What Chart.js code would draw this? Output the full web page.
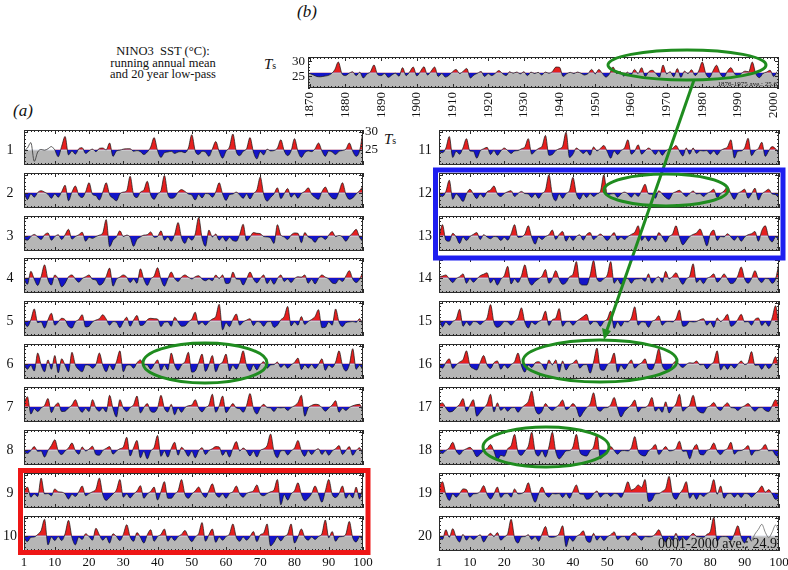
<!DOCTYPE html>
<html>
<head>
<meta charset="utf-8">
<script src="https://cdn.jsdelivr.net/npm/chart.js@4/dist/chart.umd.min.js"></script>
<style>
body { margin: 0; width: 788px; height: 570px; background: #fff; position: relative; overflow: hidden;
       font-family: 'Liberation Serif', serif; color: #111; }
canvas { position: absolute; }
.txt { position: absolute; white-space: nowrap; }
svg { position: absolute; left: 0; top: 0; }
</style>
</head>
<body>

<div class="txt" style="left:63px;top:46px;width:200px;text-align:center;font-size:12.5px;line-height:11.5px">NINO3&nbsp; SST (°C):<br>running annual mean<br>and 20 year low-pass</div>
<div class="txt" style="left:297px;top:2px;font-size:17px;font-style:italic">(b)</div>
<div class="txt" style="left:13px;top:101px;font-size:17px;font-style:italic">(a)</div>
<div class="txt" style="left:264px;top:56px;font-size:15px"><i>T</i><span style="font-size:10px">s</span></div>
<div class="txt" style="left:384px;top:131px;font-size:15px"><i>T</i><span style="font-size:10px">s</span></div>

<script>
// running annual mean minus the 20 year low-pass (degC), model years 1..100 of each century
const run01 = [null, null, null, null, null, null, null, null, null, 0.0,
    -1.9, 1.0, 3.7, -1.4, -0.3, -1.2, 0.3, 0.6, -1.0, -0.3,
    0.2, -0.5, 0.4, 0.5, 0.0, 1.9, -1.8, -0.3, -0.1, 0.2,
    0.3, 0.3, -0.4, -0.2, -0.5, -1.3, -0.6, 0.8, 3.4, -0.2,
    -2.1, -0.8, -0.6, -0.4, -1.0, -0.6, -0.5, -0.8, 0.5, 4.2,
    -0.3, -1.3, -0.4, -0.6, -1.8, 0.2, 2.3, -0.5, -2.3, -0.4,
    0.8, 4.4, -0.5, -1.6, -0.4, 0.3, 3.4, -0.6, -2.5, -0.5,
    -1.4, 0.2, -0.3, -0.2, 0.5, 2.8, -0.3, -1.6, -0.3, 3.1,
    -0.4, -2.1, -0.8, -0.3, -0.5, 0.3, 1.9, -0.3, -1.8, -0.3,
    -0.6, -1.3, -0.4, -0.2, 0.2, 1.9, -0.4, -1.8, -0.3, 5.3];
const spinUp01 = [-0.3, 0.5, 2.0, -3.2, -0.6, 0.1, -0.1, 0.3, 0.9, 0.0];
const run02 = [0.2, -1.9, -0.3, -1.2, 0.1, 0.6, 0.2, -0.4, -1.5, -0.3,
    -1.2, 0.3, 2.1, -2.2, 0.2, 1.9, -0.6, -1.3, 0.3, 2.8,
    -0.4, -0.8, -2.0, 0.2, 2.8, -0.5, -1.5, -2.2, -0.3, 0.2,
    0.6, 4.6, -0.5, -1.3, 0.2, 0.8, 3.2, -0.6, -1.8, -0.3,
    0.6, 4.8, -0.4, -1.5, -1.2, 0.2, 0.9, 0.4, -0.3, -0.6,
    -2.0, -0.4, -1.4, -0.2, -0.3, -1.2, 0.3, 2.8, -0.3, -2.1,
    -0.5, -0.3, 0.2, -0.6, -1.5, -0.3, -1.7, -0.2, 0.8, 4.4,
    -0.4, -2.3, -1.3, -0.3, 1.4, -1.6, -0.2, 1.2, -1.2, -0.3,
    -1.5, -0.2, 0.4, 1.4, -0.4, -1.3, -1.8, 0.3, 1.6, -0.3,
    -1.5, -1.7, 0.3, 2.8, -0.4, -1.8, -1.4, -0.3, 0.6, 1.9];
const run03 = [-1.0, -1.2, -0.2, 0.4, -0.3, -1.0, 0.3, 0.8, -1.2, -0.2,
    0.3, -1.0, 0.3, 1.8, -0.9, -0.2, 0.3, 1.0, -1.5, -0.4,
    -0.7, -0.2, 0.2, 0.8, 4.5, -3.0, -1.2, -0.3, 1.4, -0.2,
    0.2, -0.4, -2.9, -1.0, -0.3, 0.2, 0.3, 1.1, -0.4, -0.2,
    1.4, -1.2, -0.3, -1.5, 0.4, 3.7, -0.5, -2.1, -0.4, -1.2,
    0.5, 5.1, -0.6, -2.9, 1.6, -0.3, 0.5, -1.2, -0.3, -1.5,
    -0.4, -1.3, -1.5, 0.4, 3.2, -1.4, -0.3, 0.9, 0.7, 0.6,
    -0.2, -0.3, -0.6, -2.1, 3.1, 0.2, -0.3, -1.0, 0.2, 0.8,
    0.7, -1.9, 0.9, -0.3, -0.8, -1.8, -0.5, -0.3, -1.0, 0.2,
    1.2, -0.2, 0.1, -0.3, -1.5, -0.2, 0.8, 1.8, -0.4, -1.7];
const run04 = [-0.5, -1.8, 1.8, -0.4, -2.1, 0.3, 3.6, -0.5, -2.0, 0.8,
    -0.3, -2.5, -1.5, 0.3, 0.8, -0.3, -1.2, -0.2, 0.3, 0.8,
    -0.4, -0.6, -2.0, -1.5, 0.4, 2.7, -2.3, -0.4, 0.2, 0.8,
    0.2, -1.3, -0.3, -1.5, 2.5, -0.4, -2.1, -0.3, 0.5, 2.8,
    -0.4, -2.3, -0.3, 1.6, -0.2, -1.0, 0.2, 0.8, 0.2, -0.3,
    0.3, 0.6, -0.3, -0.8, -0.3, -0.8, 0.8, -0.2, 0.8, -1.6,
    -1.4, 1.6, -0.3, -0.4, -2.0, -0.3, 1.6, -0.3, -1.4, -0.2,
    0.8, -1.6, -0.4, -1.8, -0.2, 0.8, -1.0, -0.3, -1.3, -0.2,
    0.3, 0.2, 0.8, -1.5, -0.4, -1.7, -0.2, 0.8, 0.2, -0.3,
    -1.4, -1.6, -0.4, -1.0, 0.5, 2.0, -0.3, -1.3, -0.4, 1.8];
const run05 = [-0.3, -1.6, 0.3, 3.3, -0.5, -0.3, -2.0, 0.3, 2.1, -1.2,
    -0.3, 0.7, 0.3, -1.5, -2.0, -0.3, 0.4, 1.7, -1.7, -1.5,
    -0.3, 0.2, 0.6, 1.7, 0.5, -1.2, -0.2, -0.4, -1.9, -0.3,
    1.0, -1.5, 0.2, 1.5, -1.3, -1.0, 0.3, 0.7, 0.6, 0.5,
    -1.6, -0.4, -0.3, -1.5, 1.0, -0.3, -1.5, -1.4, -0.3, 0.5,
    2.4, -1.0, -0.3, -1.2, -0.2, 0.5, 1.2, 4.6, -2.5, -0.5,
    -1.6, 0.4, 1.9, -1.2, -0.3, 0.2, 0.6, -1.3, -0.2, -0.4,
    -1.5, -0.3, -0.2, -1.8, -1.2, 0.3, 1.2, 4.0, -1.4, -0.3,
    -1.2, 1.2, -1.0, -0.2, 0.4, 1.2, 3.1, -1.9, -1.8, -0.3,
    -1.2, 3.3, -0.3, -1.6, -0.5, -0.3, -0.2, -0.4, 0.6, -1.2];
const run06 = [-0.2, -1.5, -0.4, -2.0, 3.0, -0.3, -2.2, 1.1, -1.5, 2.3,
    -2.5, 1.4, -0.4, -2.2, 3.2, -0.3, -1.6, -2.2, -0.3, -0.4,
    -1.2, -0.2, 3.0, -0.4, -2.2, -0.3, -1.7, 0.6, 3.6, -2.2,
    -0.4, -0.3, -1.2, 0.3, 1.1, -0.2, -0.3, -1.5, -0.2, 1.1,
    -1.8, -0.3, -1.7, 3.0, -0.4, -1.8, -0.3, 0.6, 3.2, -2.3,
    -2.0, 0.3, 2.7, -2.1, -0.3, 2.3, -2.2, -0.3, 0.5, 2.7,
    -2.0, -0.4, -1.5, 0.4, 3.6, -0.5, -2.0, -0.3, -1.7, -0.2,
    0.6, -1.2, -0.3, -0.2, 0.5, -1.0, -0.2, -1.2, -0.3, 0.4,
    1.6, -1.6, -0.3, -1.2, -0.2, -1.3, -0.2, 1.4, -1.8, -0.4,
    -1.0, 0.5, 3.6, -0.4, -2.0, -0.3, 4.2, -1.5, -0.4, -1.8];
const run07 = [1.0, 2.8, -2.0, -0.5, -1.3, -0.3, 0.4, 2.3, -1.6, 0.2,
    1.1, -1.3, -1.2, -0.3, 0.5, 2.0, -0.3, -1.5, -0.4, -1.3,
    2.0, -0.3, -1.2, -0.3, -1.4, 3.2, -0.5, -2.8, 2.0, -0.3,
    -1.3, -0.2, 0.6, 3.0, -1.7, -0.2, 0.9, -1.2, -1.5, -0.3,
    3.2, -0.4, -1.4, 0.7, -2.2, -0.3, -1.5, -0.2, 0.3, 0.5,
    2.0, -0.3, -1.4, -0.2, 0.5, 3.5, -1.5, 0.3, 3.0, -1.6,
    -0.4, 0.9, -0.3, -0.5, -1.5, 0.4, 3.7, -0.4, -2.0, -0.3,
    0.7, -0.2, -0.3, -1.3, -0.2, -0.3, -0.2, -1.0, -0.2, 0.3,
    1.2, 3.2, -2.6, -0.3, 0.4, 0.7, 0.6, -0.2, -1.2, -0.3,
    0.5, 1.7, -1.5, -0.4, -1.0, -0.2, 0.3, 0.6, 0.7, -1.2];
const run08 = [-0.3, -1.0, -0.2, 0.9, -0.4, -0.3, -2.0, -0.2, 1.2, 2.8,
    -0.3, -1.3, -0.3, 0.5, 1.9, -0.2, -1.2, 0.8, -0.3, 0.2,
    1.0, -1.3, -1.5, -0.2, 0.4, 0.9, -1.2, -0.3, 0.3, 0.8,
    3.5, -1.7, 0.6, 2.6, -2.2, -0.4, -2.5, -0.3, 0.7, 4.0,
    -1.8, -0.3, -2.0, 0.4, 2.1, -1.5, 0.7, -0.3, -1.8, -0.4,
    -2.2, -0.3, 0.6, -1.3, -0.2, 0.3, 0.9, 0.8, -1.5, -0.3,
    -2.0, 0.4, 2.3, -0.3, 0.5, -0.3, -1.7, -0.4, -2.0, -0.2,
    0.3, 1.2, 4.4, -0.4, -2.2, -0.3, -0.2, -1.4, -0.3, 0.5,
    2.6, -0.3, -1.8, -0.2, -1.3, -0.2, 0.3, -1.3, -0.2, -1.5,
    -0.3, 0.3, 1.2, -1.3, -0.2, 0.9, -1.5, -0.2, 0.6, -1.4];
const run09 = [0.6, 1.6, -1.2, -0.3, -1.0, 4.1, -0.3, -0.2, -0.8, 1.1,
    0.3, 0.2, -0.3, -1.7, -0.4, -1.0, 0.3, 1.9, -0.8, -0.2,
    0.3, 1.0, 4.1, -0.5, -2.1, -1.3, -0.3, 0.8, 3.7, -1.2,
    -0.3, -1.4, -0.3, 0.5, 2.0, -1.5, -0.3, 0.4, 1.6, -2.0,
    0.4, 3.1, -1.5, -1.5, -0.3, 0.6, 3.7, -0.4, -1.5, -0.3,
    0.5, 1.6, -0.2, -1.3, 0.6, 2.5, -0.3, -1.2, -0.3, -1.5,
    -0.2, 0.3, 1.9, -0.3, -1.2, -0.2, 0.2, 0.6, 2.2, -0.3,
    -0.8, -0.2, 0.3, 0.8, 3.7, -3.3, -0.5, -2.0, -0.3, 0.6,
    2.8, -0.4, -2.2, -1.5, -0.2, 1.9, -0.3, -2.6, 0.5, 3.7,
    -0.4, -1.3, -0.2, 1.9, -1.5, -0.3, -1.4, 1.6, -1.7, 2.2];
const run10 = [-0.8, -1.6, -0.4, -0.3, 0.4, 1.5, 4.6, -2.5, -0.3, -1.3,
    -0.2, -1.3, 0.6, 4.3, -0.4, -2.5, -0.3, -1.0, 0.6, -0.2,
    -1.2, 2.1, 0.3, -1.2, -0.3, -2.0, 0.6, -0.2, -1.3, 0.4,
    3.1, -0.3, -1.5, 0.9, -0.4, -2.0, 0.3, 1.7, -1.5, -0.2,
    0.4, 1.9, -1.5, -0.3, -1.3, -0.2, 0.4, 1.5, -0.3, -1.6,
    -0.3, 0.6, 3.7, -1.5, 0.3, 1.9, -1.8, -0.3, -1.2, -0.2,
    0.5, 3.3, -0.4, -1.5, -0.3, -1.2, -0.2, 1.2, -1.6, 0.3,
    0.8, 3.3, -2.8, -1.8, -0.3, -1.4, -0.2, 0.5, 3.3, -2.0,
    -0.3, 1.9, -0.4, -1.2, -0.3, -1.0, -0.2, 0.6, 4.4, -0.5,
    1.2, -1.5, -0.3, -0.2, 0.5, 4.0, -0.5, -1.7, -0.3, -1.0];
const run11 = [-0.5, -0.8, 0.5, 3.7, -2.1, -0.4, -1.2, 0.6, 3.1, -0.3,
    -0.4, -2.3, -0.3, 0.3, 0.7, -1.3, -0.2, -1.5, -0.3, 0.5,
    -0.2, -1.0, -0.3, -0.2, 0.3, 0.8, 3.1, -1.2, -0.3, 0.4,
    1.0, 4.0, -1.5, -1.3, -0.2, 0.3, 1.0, 4.9, -2.1, -1.2,
    0.5, -0.2, -1.0, -0.3, -1.5, 0.8, -0.3, 0.4, 1.2, -0.5,
    -2.3, -0.3, -1.3, -0.2, 0.5, 2.8, -1.2, -0.3, 1.4, -1.2,
    -0.3, 0.5, -0.2, -1.3, -0.2, -1.5, -0.3, 0.2, 0.4, 1.2,
    -0.3, -1.7, 0.5, -1.2, 0.5, -1.0, -0.2, -0.3, -0.2, -1.2,
    -0.3, -1.4, -0.2, 0.3, 0.8, 2.8, -2.3, -0.4, -0.3, 0.6,
    3.2, -1.6, -0.3, 0.4, 2.1, -1.8, -0.3, 0.9, 0.3, -1.2];
const run12 = [-0.4, -1.0, 0.4, 3.5, -1.8, -0.3, -1.2, -2.4, -0.3, 1.0,
    -0.3, -1.6, -0.3, -1.2, 0.3, 0.8, 1.9, -0.3, -1.0, -0.2,
    0.3, 0.6, -1.0, -0.2, 0.4, -0.2, -0.3, -1.3, -0.3, -1.5,
    -0.2, 0.8, 5.0, -0.5, -2.2, -0.3, -1.5, -0.2, 0.6, 4.3,
    -0.3, -1.8, -0.3, -1.3, -0.2, -1.0, -0.3, 0.4, 5.0, -0.5,
    -0.3, -0.2, -1.2, -0.3, 0.2, -0.3, -1.2, -0.2, -1.0, 0.6,
    2.4, -0.3, -0.4, -1.5, 0.6, -0.3, -1.3, -1.8, -0.2, 0.3,
    0.7, -0.2, -1.0, -0.2, 0.5, -0.3, -0.2, -1.0, -0.2, 0.3,
    1.0, -1.3, -0.2, 0.5, 1.7, -0.3, -1.8, -0.2, 0.4, 1.0,
    -1.5, -0.3, 1.3, -2.0, -0.3, 0.4, 1.0, -0.3, -0.5, -1.5];
const run13 = [-0.4, 3.1, -1.2, -1.5, 0.7, -0.3, -2.1, -0.3, -1.3, -0.2,
    0.4, 0.9, -1.0, 0.3, -0.3, -0.8, -0.2, -0.3, -1.3, -0.4,
    -1.2, 0.6, 3.1, -0.4, -0.3, 0.5, 2.8, -0.4, -2.3, -0.3,
    -1.0, -0.2, 0.3, 1.6, -1.0, 0.4, 1.2, -1.5, -0.2, -1.3,
    -0.2, 0.3, -1.2, 0.4, 0.9, -1.0, -0.2, 0.5, -0.3, -1.3,
    -0.2, 0.9, -1.2, -0.3, -1.0, -0.2, 0.4, 1.0, 2.8, -1.3,
    -0.2, -1.5, -0.3, -1.2, 0.9, -0.3, -1.7, -0.2, 0.5, 2.8,
    -0.3, -2.5, -1.4, -0.2, 0.4, 0.8, 1.9, -0.3, -2.8, 0.5,
    1.6, -1.3, -0.2, -0.3, 0.6, -0.3, -1.2, -0.2, -1.5, -0.3,
    0.3, 0.6, 1.2, -1.5, 1.5, 2.8, -0.4, -1.7, -0.3, -1.2];
const run14 = [0.3, 0.5, 0.8, -0.3, -1.3, -0.2, 0.3, 1.1, -1.5, -0.2,
    -1.2, -0.3, 0.6, 1.0, 1.4, -1.4, -0.3, -2.0, -0.4, 0.6,
    3.2, -1.7, -0.3, -1.3, 0.6, 3.6, -0.4, -2.0, -1.0, -0.3,
    0.5, 2.3, -1.5, -0.2, 2.0, -0.4, -1.8, -1.3, 0.3, 1.0,
    4.5, -1.5, -2.0, -2.0, 0.7, 4.8, -0.3, -1.0, -0.2, 0.8,
    4.5, -1.5, -0.4, -1.8, -0.3, -0.2, -1.5, -0.4, -0.3, -0.2,
    -1.0, 1.1, -1.5, -0.3, 0.3, -1.3, 1.8, -0.3, 0.4, 1.4,
    -0.4, -1.8, -0.3, 0.5, 3.9, -1.3, -0.4, -1.6, -0.2, 0.3,
    1.1, -1.2, -0.3, 1.1, -0.3, -1.6, -1.2, 0.6, 3.0, -0.3,
    -1.5, -0.2, 2.0, -0.3, -1.3, -0.2, -0.3, -1.5, -0.3, 4.2];
const run15 = [1.0, -1.7, -0.3, -1.2, -0.2, 0.5, 3.2, -1.5, -0.3, -1.3,
    -0.2, -0.3, -1.0, -0.2, 0.8, 4.5, -0.5, -1.8, -1.3, -0.2,
    -0.3, -1.2, -0.2, 0.8, 3.6, -0.4, -2.0, -0.3, -1.0, -0.2,
    0.4, 2.7, -1.3, 0.3, 0.8, 3.4, -1.5, -0.3, -0.2, -1.2,
    -0.2, 0.5, 1.2, 1.8, -1.0, -0.2, -0.3, -1.5, -0.2, 0.5,
    2.7, -2.1, -0.3, -1.5, -0.2, -0.3, 0.8, 3.9, -1.2, -0.3,
    -0.4, -1.8, -0.2, 0.3, 1.4, -1.2, -0.3, -0.2, -0.3, 0.6,
    3.0, -1.5, -1.3, -0.2, -0.3, -0.2, 0.3, 0.6, -1.2, -0.3,
    -1.8, 0.8, -0.2, 0.6, 1.8, -1.5, -1.0, 0.4, 1.8, -0.3,
    -0.2, -1.2, 0.4, 0.8, -1.3, -0.3, -1.5, 0.8, 4.2, -2.3];
const run16 = [-0.3, -1.2, 0.4, 1.4, -1.3, -0.3, 0.5, 1.2, 3.6, -0.4,
    -1.3, -1.7, 0.4, 2.3, -0.3, -1.3, 0.3, 0.8, -1.5, -0.3,
    -1.2, -0.2, 0.6, 3.0, -0.5, -2.3, -0.3, -1.0, 0.3, 0.6,
    -0.2, -1.7, 1.1, -0.3, 1.1, -2.3, 0.8, -1.7, -0.3, 0.2,
    1.1, -1.2, -0.3, -0.2, -2.6, 0.5, 4.4, -1.5, -1.8, -0.3,
    0.6, 3.0, -2.3, -0.4, -1.5, -0.2, 1.1, -1.2, -0.3, 0.3,
    1.4, -1.4, -1.6, 0.6, 4.2, -0.4, -1.7, -1.8, -0.2, 0.8,
    -0.3, -1.0, -0.2, 0.3, 0.2, 0.8, -0.3, -0.2, -1.4, -0.3,
    0.6, 3.6, -1.7, -0.4, -1.5, -0.3, -1.2, -0.2, 0.8, -0.2,
    0.4, 3.4, -0.4, -0.3, -1.5, -0.2, -1.3, -0.2, 2.0, -1.8];
const run17 = [0.5, 1.1, -0.3, -1.4, -1.2, -0.2, 0.7, 2.3, -1.3, 0.4,
    2.0, -2.6, -1.5, -0.3, 0.8, 3.5, -1.4, 1.1, -1.0, -0.2,
    -1.2, -0.3, -0.2, -1.5, -0.3, 0.5, 1.5, 4.4, -0.5, -2.0,
    -1.2, 0.9, -0.3, -1.0, -0.2, 0.6, 1.9, -0.8, -0.2, 0.9,
    -0.3, -2.8, -1.5, -0.2, 0.8, 3.9, -0.4, -1.2, -0.3, -0.2,
    0.6, 2.6, -0.5, -2.8, -1.3, -0.3, 0.5, 1.9, -1.4, -0.3,
    -0.2, 0.6, 2.6, -1.2, -0.3, -1.5, 1.4, -1.7, -0.3, 0.8,
    3.5, -1.2, -0.3, 0.5, 3.2, -0.4, -1.5, -1.7, -0.2, 0.3,
    1.2, -0.3, -1.0, 0.3, 1.1, -0.2, -0.3, -1.0, -0.2, 0.3,
    0.9, -0.2, -1.2, -0.3, -0.2, -1.0, -1.3, 0.3, 2.0, 0.5];
const run18 = [-0.3, -1.0, -0.2, 0.6, 2.1, -0.3, -1.3, -0.2, 0.3, 0.7,
    -0.3, -1.9, -1.2, -0.2, 0.4, 1.5, -0.4, -2.8, -1.5, -1.8,
    0.3, 1.2, 4.3, -0.5, -1.5, -0.3, 1.0, 4.9, -0.5, -1.7,
    -0.3, -2.0, 0.8, 4.9, -0.5, -2.5, -1.5, -0.3, -0.2, 0.8,
    4.3, -0.5, -1.5, -1.7, -0.3, 0.8, 4.3, -2.5, -1.3, -0.3,
    0.9, -0.2, -1.2, -0.3, -0.2, -0.3, 0.6, 3.7, -0.4, -1.5,
    -1.7, -0.3, 0.4, 1.5, -1.3, -0.2, 0.9, -0.3, -0.2, 0.4,
    2.4, -0.4, -0.3, -2.5, 0.2, 1.5, -1.2, -1.4, -0.2, 0.3,
    1.9, -0.3, -1.3, -0.2, 0.4, 2.1, -1.2, -0.3, -0.2, 0.3,
    1.2, -1.5, -0.3, -0.2, 0.3, 1.5, -0.3, -0.2, -1.5, -2.0];
const run19 = [1.5, 3.1, -0.4, -2.1, -0.3, -1.2, -0.2, 1.1, 0.9, -1.2,
    -0.3, -0.2, 0.4, 2.0, -0.4, -1.7, -0.3, 1.6, -1.3, -0.3,
    -0.2, -1.2, 1.1, -0.3, -0.2, 0.5, 2.8, -0.5, -2.6, -0.3,
    1.6, -0.3, -1.2, -0.2, -0.3, -0.2, -1.3, -0.2, -1.5, 0.4,
    2.2, -0.3, -0.4, -1.8, -1.5, -0.3, 0.5, -1.2, -0.3, -0.2,
    -1.0, -0.2, -0.3, -1.3, 0.6, 3.1, 0.8, 1.2, 2.2, 1.5,
    3.7, -2.4, -2.0, -0.3, -0.2, 0.4, 1.2, 4.6, -0.5, -1.8,
    -0.3, 1.0, 3.1, -1.5, -0.3, -1.8, -0.3, -1.0, -0.2, 0.5,
    3.7, -0.4, 1.9, -1.5, -0.3, -0.2, -1.2, -0.3, -1.3, -0.2,
    -0.3, -1.2, -0.3, 0.6, 1.9, 0.2, 0.9, -0.3, -1.8, -1.5];
const run20 = [-0.3, -1.0, 1.7, -0.4, 2.0, -0.4, -1.7, 0.4, -1.2, -0.2,
    -1.0, -0.3, 0.3, -1.7, -0.3, 0.7, -0.2, 0.9, -1.2, -0.3,
    0.6, 4.6, -0.5, -2.0, -0.3, -0.2, 0.3, -1.0, -0.2, -1.5,
    0.5, 2.6, -0.3, -0.4, -0.2, 0.6, 2.8, -3.0, -0.5, -1.5,
    -0.2, 0.4, 1.4, -1.3, -1.8, 0.7, -1.2, -0.2, -1.3, -0.3,
    0.3, 1.1, -1.0, -0.3, -0.2, -1.3, 0.3, 0.9, -0.3, -1.2,
    -0.2, -0.3, -0.2, 0.5, 1.7, -0.3, -1.7, -0.2, -1.2, 0.7,
    -1.4, -0.3, -1.2, -0.2, 0.7, -0.2, -0.3, -0.4, 0.4, 1.2,
    5.1, -1.5, -0.3, -0.2, -0.3, -1.3, 0.5, 2.8, -0.4, -2.0,
    -0.3, -1.5, null, null, null, null, null, null, null, null];
// years 92..100 of the last century, beyond the 2000 year average
const tail20 = [-1.5, 0.5, 1.8, 3.2, 1.0, -0.5, 1.0, 3.0, 1.0];
const tailYears20 = [92, 93, 94, 95, 96, 97, 98, 99, 100];
const spinYears01 = [1, 2, 3, 4, 5, 6, 7, 8, 9, 10];

// 20 year low-pass level of each century (degC)
const lowPass = [25.0, 25.0, 25.0, 25.0, 25.0, 25.0, 25.0, 25.0, 25.0, 25.0,
    25.0, 25.0, 25.0, 25.0, 25.0, 25.0, 25.0, 25.0, 25.0, 25.0];
const panelNames = ['1', '2', '3', '4', '5', '6', '7', '8', '9', '10',
    '11', '12', '13', '14', '15', '16', '17', '18', '19', '20'];
const yearTicksA = [1, 10, 20, 30, 40, 50, 60, 70, 80, 90, 100];

// observed NINO3 SST anomaly from its low-pass, 1870..2001
const nino3Start = 1870;
const nino3 = [-0.3, -0.8, -1.3, -1.4, -1.2, -1.0, -0.4, 1.0, 3.6, -0.3,
    -1.0, -0.2, 0.3, -1.0, 0.2, -1.8, -0.5, 0.3, 2.6, -0.6,
    -1.0, -0.3, -1.6, -0.8, -0.2, -1.2, 1.7, -1.0, 0.3, 1.9,
    -1.1, 0.4, 2.0, -0.8, 0.5, 1.9, -1.3, -0.3, -1.5, -0.9,
    0.3, 1.1, -0.3, 0.5, 1.4, -1.8, -0.8, -0.2, 0.4, -1.3,
    -0.3, -1.0, -0.2, 0.7, -0.3, -1.0, 0.3, -0.2, 0.2, -0.4,
    0.3, -1.0, 0.2, -0.3, 0.1, -0.8, 0.2, -0.2, 0.4, 1.9,
    1.8, -1.3, -0.4, 0.1, -0.3, 0.2, -0.2, -0.8, -0.3, 1.1,
    -0.4, 1.1, -0.3, -1.5, -0.4, 1.9, -0.3, 0.4, -1.2, 0.2,
    -0.8, 1.1, -0.3, 1.7, -1.3, 0.3, 0.8, -0.3, -1.5, 2.6,
    -0.4, 0.3, -1.4, 1.4, -1.6, 0.5, -0.3, 1.0, -1.0, 0.6,
    3.6, -0.4, -1.7, 0.6, 2.5, -0.3, -1.6, 0.4, 1.7, -0.3,
    -1.3, -0.2, 0.5, 0.3, 3.6, -0.4, -1.7, -0.3, 0.2, 0.8,
    -1.3, 0.4];
const nino3LowPass = 26.2;
const yearTicksB = [1870, 1880, 1890, 1900, 1910, 1920, 1930, 1940, 1950, 1960, 1970, 1980, 1990, 2000];
const tempTicks = [25, 30];

const runs = [run01, run02, run03, run04, run05, run06, run07, run08, run09, run10,
    run11, run12, run13, run14, run15, run16, run17, run18, run19, run20];

const RED = '#e6201f';
const BLUE = '#1414c8';
const GRAY = '#b6b6b6';
const FONT = "'Liberation Serif', serif";

Chart.defaults.font.family = FONT;

// frame, inward ticks and labels, placed with the chart's own scales
const framePlugin = {
    id: 'frame',
    afterDatasetsDraw(chart, args, opts) {
        const ctx = chart.ctx;
        const a = chart.chartArea;
        const x = chart.scales.x;
        const y = chart.scales.y;
        ctx.save();
        ctx.strokeStyle = '#2a2a2a';
        ctx.lineWidth = 1;
        ctx.beginPath();
        for (let v = Math.ceil(x.min); v <= x.max; v++) {
            const px = Math.round(x.getPixelForValue(v)) + 0.5;
            const len = v % 10 === 0 ? 4 : 2;
            ctx.moveTo(px, a.bottom);
            ctx.lineTo(px, a.bottom - len);
            ctx.moveTo(px, a.top);
            ctx.lineTo(px, a.top + len);
        }
        for (let v = Math.ceil(y.min); v <= y.max; v++) {
            const py = Math.round(y.getPixelForValue(v)) + 0.5;
            const len = v % 5 === 0 ? 4 : 2;
            ctx.moveTo(a.left, py);
            ctx.lineTo(a.left + len, py);
            ctx.moveTo(a.right, py);
            ctx.lineTo(a.right - len, py);
        }
        ctx.stroke();
        ctx.strokeRect(Math.round(a.left) + 0.5, Math.round(a.top) + 0.5,
            Math.round(a.width) - 1, Math.round(a.height) - 1);

        ctx.fillStyle = '#111';
        if (opts.name) {
            ctx.font = '14px ' + FONT;
            ctx.textAlign = 'center';
            ctx.textBaseline = 'middle';
            ctx.fillText(opts.name, opts.nameX, y.getPixelForValue(25));
        }
        ctx.font = '13px ' + FONT;
        if (opts.rightTicks) {
            ctx.textAlign = 'left';
            ctx.textBaseline = 'middle';
            opts.rightTicks.forEach(v => ctx.fillText(String(v), a.right + 2, y.getPixelForValue(v)));
        }
        if (opts.leftTicks) {
            ctx.textAlign = 'right';
            ctx.textBaseline = 'middle';
            opts.leftTicks.forEach(v => ctx.fillText(String(v), a.left - 3, y.getPixelForValue(v)));
        }
        if (opts.bottomTicks) {
            ctx.textAlign = 'center';
            ctx.textBaseline = 'top';
            opts.bottomTicks.forEach(v => ctx.fillText(String(v), x.getPixelForValue(v), a.bottom + 5));
        }
        if (opts.yearTicks) {
            ctx.textAlign = 'right';
            ctx.textBaseline = 'middle';
            opts.yearTicks.forEach(v => {
                ctx.save();
                ctx.translate(x.getPixelForValue(v), a.bottom + 4);
                ctx.rotate(-Math.PI / 2);
                ctx.fillText(String(v), 0, 0);
                ctx.restore();
            });
        }
        if (opts.note) {
            ctx.font = opts.noteSize + 'px ' + FONT;
            ctx.textAlign = 'right';
            ctx.textBaseline = 'bottom';
            ctx.fillText(opts.note, a.right - 2, a.bottom);
        }
        ctx.restore();
    }
};

function makeCanvas(left, top, w, h) {
    const c = document.createElement('canvas');
    c.width = w;
    c.height = h;
    c.style.left = left + 'px';
    c.style.top = top + 'px';
    document.body.appendChild(c);
    return c.getContext('2d');
}

function points(values, first, base) {
    return values.map((v, k) => ({x: first + k, y: v === null ? null : base + v}));
}

function lineSet(data, color, width, fill, order) {
    return {
        data: data,
        borderColor: color,
        borderWidth: width,
        pointRadius: 0,
        fill: fill,
        cubicInterpolationMode: 'monotone',
        spanGaps: false,
        order: order
    };
}

function makeChart(ctx, datasets, xMin, xMax, yMin, yMax, padding, frame) {
    return new Chart(ctx, {
        type: 'line',
        data: {datasets: datasets},
        options: {
            responsive: false,
            animation: false,
            devicePixelRatio: 1,
            events: [],
            layout: {padding: padding},
            scales: {
                x: {type: 'linear', min: xMin, max: xMax, display: false},
                y: {min: yMin, max: yMax, display: false}
            },
            plugins: {legend: {display: false}, tooltip: {enabled: false}, frame: frame}
        },
        plugins: [framePlugin]
    });
}

// panel (a): 20 centuries
const Y_MIN = 20.8, Y_MAX = 30.5, PX_PER_DEG = 3.6;
const columns = [
    {canvasX: 0, canvasW: 400, plotL: 24, plotR: 363, nameX: 10},
    {canvasX: 400, canvasW: 388, plotL: 439, plotR: 779, nameX: 25}
];

for (let i = 0; i < runs.length; ++i) {
    const col = columns[Math.floor(i / 10)];
    const row = i % 10;
    const base = lowPass[i];
    const y25 = 149.5 + row * 42.9;
    const plotTop = Math.round(y25 - (Y_MAX - 25) * PX_PER_DEG);
    const plotH = Math.round((Y_MAX - Y_MIN) * PX_PER_DEG);
    const padT = 4;
    const padB = row === 9 ? 24 : 4;
    const ctx = makeCanvas(col.canvasX, plotTop - padT, col.canvasW, plotH + padT + padB);

    const datasets = [
        lineSet(points(runs[i], 1, base), '#111', 0.7, {target: {value: base}, above: RED, below: BLUE}, 0),
        Object.assign(lineSet([{x: 1, y: base}, {x: 100, y: base}], '#eef1fb', 1, 'start', 2),
            {backgroundColor: GRAY})
    ];
    if (i === 0) {
        datasets.push(lineSet(spinUp01.map((v, k) => ({x: spinYears01[k], y: base + v})), '#333', 0.8, false, 1));
    }
    if (i === 19) {
        datasets.push(lineSet(tail20.map((v, k) => ({x: tailYears20[k], y: base + v})), '#6a6a6a', 0.8, false, 1));
    }

    const frame = {name: panelNames[i], nameX: col.nameX};
    if (i === 0) frame.rightTicks = tempTicks;
    if (row === 9) frame.bottomTicks = yearTicksA;
    if (i === 19) {
        frame.note = '0001-2000 ave.: 24.9';
        frame.noteSize = 14;
    }
    makeChart(ctx, datasets, 1, 100, Y_MIN, Y_MAX,
        {left: col.plotL - col.canvasX, right: col.canvasX + col.canvasW - col.plotR, top: padT, bottom: padB},
        frame);
}

// panel (b): observed record
const ctxB = makeCanvas(250, 50, 538, 75);
makeChart(ctxB, [
    lineSet(points(nino3, nino3Start, nino3LowPass), '#111', 0.7,
        {target: {value: nino3LowPass}, above: RED, below: BLUE}, 0),
    Object.assign(lineSet([{x: 1869.5, y: nino3LowPass}, {x: 2001.5, y: nino3LowPass}], '#eef1fb', 1, 'start', 2),
        {backgroundColor: GRAY})
], 1869.5, 2001.5, 21, 31.5, {left: 58, right: 9, top: 7, bottom: 37},
    {leftTicks: tempTicks, yearTicks: yearTicksB, note: '1876-1975 ave.: 25.6', noteSize: 7});
</script>

<svg width="788" height="570">
  <g fill="none" stroke="#1f8c1f" stroke-width="3">
    <ellipse cx="687" cy="65" rx="79" ry="15"/>
    <ellipse cx="666" cy="190" rx="62" ry="16"/>
    <ellipse cx="205" cy="363" rx="62" ry="20"/>
    <ellipse cx="600" cy="361" rx="77" ry="21"/>
    <ellipse cx="546" cy="447" rx="63" ry="20"/>
    <line x1="694" y1="80" x2="607" y2="330"/>
  </g>
  <polygon points="604,340 611,331 602,328" fill="#1f8c1f"/>
  <rect x="20.5" y="470.5" width="347.5" height="82" fill="none" stroke="#ee1616" stroke-width="5"/>
  <rect x="435.5" y="170" width="347.5" height="88" fill="none" stroke="#1e1ef0" stroke-width="5"/>
</svg>
</body>
</html>
